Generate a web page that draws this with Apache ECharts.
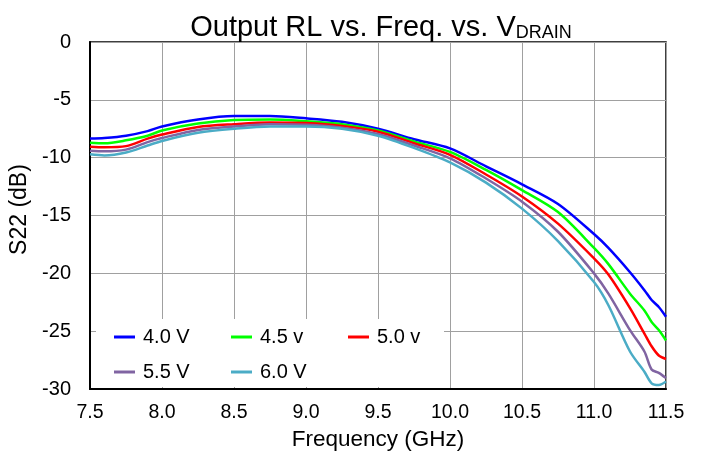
<!DOCTYPE html>
<html>
<head>
<meta charset="utf-8">
<script src="https://cdn.jsdelivr.net/npm/echarts@6/dist/echarts.min.js"></script>
<style>html,body{margin:0;padding:0;background:#fff;}#c{width:707px;height:456px;}</style>
</head>
<body>
<div id="c"></div>
<script>
const freq = [7.5, 7.6, 7.75, 7.9, 8.0, 8.25, 8.5, 8.75, 9.0, 9.25, 9.5, 9.75, 10.0, 10.25, 10.5, 10.75, 11.0, 11.1, 11.25, 11.35, 11.4, 11.45, 11.5];
const v40 = [-8.35, -8.3, -8.1, -7.7, -7.3, -6.7, -6.4, -6.4, -6.6, -6.9, -7.5, -8.4, -9.2, -10.75, -12.3, -14.0, -16.6, -17.8, -19.9, -21.45, -22.3, -22.9, -23.75];
const v45 = [-8.7, -8.75, -8.5, -8.1, -7.65, -7.05, -6.75, -6.7, -6.85, -7.1, -7.65, -8.6, -9.5, -11.05, -12.8, -14.7, -17.8, -19.2, -21.75, -23.2, -24.2, -24.9, -25.8];
const v50 = [-9.05, -9.1, -9.0, -8.35, -8.0, -7.35, -7.1, -6.95, -7.0, -7.25, -7.75, -8.75, -9.75, -11.45, -13.35, -15.7, -18.7, -20.1, -23.0, -25.2, -26.3, -27.1, -27.4];
const v55 = [-9.4, -9.45, -9.3, -8.65, -8.3, -7.6, -7.3, -7.1, -7.15, -7.4, -7.95, -8.95, -10.05, -11.8, -13.8, -16.4, -20.0, -21.75, -24.9, -26.75, -28.3, -28.6, -29.05];
const v60 = [-9.7, -9.8, -9.55, -8.95, -8.55, -7.85, -7.5, -7.3, -7.3, -7.5, -8.1, -9.15, -10.4, -12.15, -14.4, -17.2, -20.75, -22.75, -26.75, -28.5, -29.5, -29.65, -29.35];
const seriesNames = ['4.0 V', '4.5 v', '5.0 v', '5.5 V', '6.0 V'];
const seriesData = [v40, v45, v50, v55, v60];
const colors = ['#0000FF', '#00FF00', '#FF0000', '#8064A2', '#4BACC6'];
const xTicks = [7.5, 11.5, 0.5];
const yTicks = [-30, 0, 5];

const FONT = 'Liberation Sans, Arial, sans-serif';
const chart = echarts.init(document.getElementById('c'), null, {renderer: 'canvas'});

const legendPos = [[114, 327], [231, 327], [348, 327], [114, 362], [231, 362]];
const legends = seriesNames.map((n, i) => ({
  data: [n],
  left: legendPos[i][0],
  top: legendPos[i][1],
  padding: 0,
  icon: 'rect',
  itemWidth: 21,
  itemHeight: 3,
  selectedMode: false,
  textStyle: {fontFamily: FONT, fontSize: 20, color: '#000', padding: [0, 0, 0, 3]}
}));

const option = {
  backgroundColor: '#fff',
  animation: false,
  color: colors,
  title: {
    text: '{m|Output RL vs. Freq. vs. V}{s|DRAIN}',
    left: 376,
    textAlign: 'center',
    top: 3,
    textStyle: {
      rich: {
        m: {fontFamily: FONT, fontSize: 29, fontWeight: 'normal', color: '#000', verticalAlign: 'bottom', lineHeight: 34},
        s: {fontFamily: FONT, fontSize: 18, fontWeight: 'normal', color: '#000', verticalAlign: 'bottom', lineHeight: 30}
      }
    }
  },
  grid: {left: 90, right: 41, top: 42, bottom: 65, show: true, borderColor: '#000', borderWidth: 1.5, backgroundColor: 'transparent'},
  legend: legends,
  graphic: [{
    type: 'rect',
    shape: {x: 96, y: 319, width: 348, height: 68},
    style: {fill: '#fff'},
    z: 1,
    silent: true
  }],
  xAxis: {
    type: 'value',
    min: xTicks[0], max: xTicks[1], interval: xTicks[2],
    name: 'Frequency (GHz)',
    nameLocation: 'middle',
    nameGap: 32,
    nameTextStyle: {fontFamily: FONT, fontSize: 22.5, color: '#000'},
    axisLine: {show: true, onZero: false, lineStyle: {color: '#000', width: 2}},
    axisTick: {show: false},
    axisLabel: {fontFamily: FONT, fontSize: 19.5, color: '#000', margin: 14, formatter: v => v.toFixed(1)},
    splitLine: {show: true, lineStyle: {color: '#A0A0A0', width: 1}}
  },
  yAxis: {
    type: 'value',
    min: yTicks[0], max: yTicks[1], interval: yTicks[2],
    name: 'S22 (dB)',
    nameLocation: 'middle',
    nameGap: 57,
    nameRotate: 90,
    nameTextStyle: {fontFamily: FONT, fontSize: 23, color: '#000', padding: [0, 0, 0, 12]},
    axisLine: {show: true, onZero: false, lineStyle: {color: '#000', width: 2}},
    axisTick: {show: false},
    axisLabel: {fontFamily: FONT, fontSize: 20, color: '#000', margin: 19},
    splitLine: {show: true, lineStyle: {color: '#A0A0A0', width: 1}}
  },
  series: seriesNames.map((n, i) => ({
    name: n,
    type: 'line',
    data: freq.map((f, j) => [f, seriesData[i][j]]),
    showSymbol: false,
    symbol: 'none',
    smooth: 0.3,
    z: 2,
    lineStyle: {color: colors[i], width: 2.5}
  }))
};
chart.setOption(option);
</script>
</body>
</html>
